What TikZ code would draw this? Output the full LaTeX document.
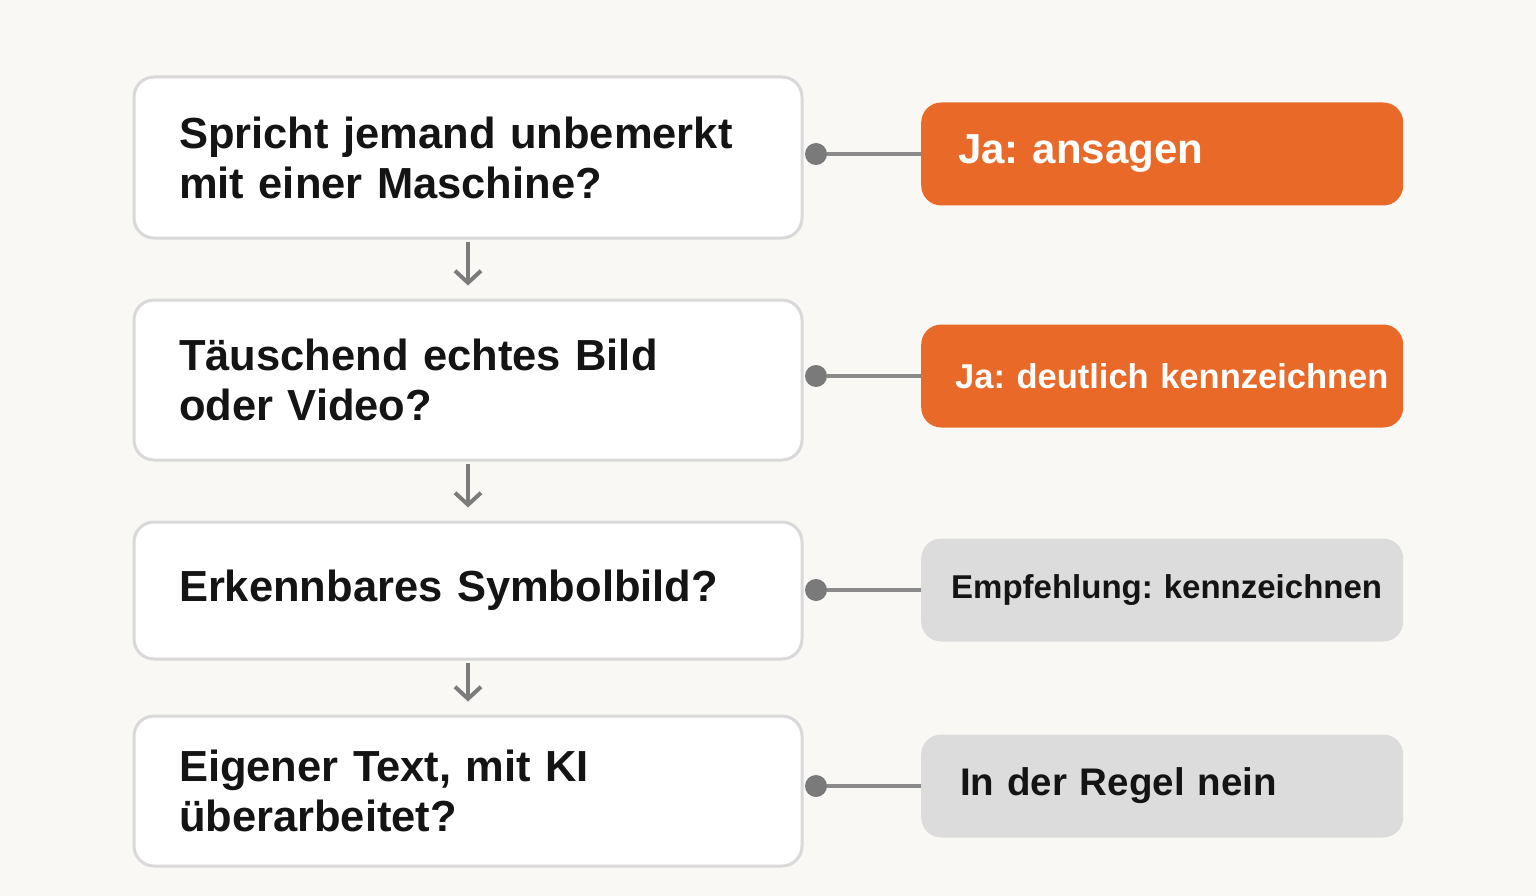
\documentclass[tikz,border=0pt]{standalone}
\usepackage{fontspec}
\setmainfont[WordSpace=0.72]{Liberation Sans}
\usetikzlibrary{arrows.meta}
\definecolor{bg}{HTML}{FAF8F5}
\definecolor{orangefill}{HTML}{E96A28}
\definecolor{grayfill}{HTML}{DCDCDC}
\definecolor{boxborder}{HTML}{D9D9D9}
\definecolor{linegray}{HTML}{8A8A8A}
\definecolor{arrowgray}{HTML}{7C7C7C}
\definecolor{dotgray}{HTML}{7A7A7A}
\definecolor{ink}{HTML}{141414}
\frenchspacing
\begin{document}
\begin{tikzpicture}[x=1pt,y=-1pt,
  qbox/.style={draw=boxborder,line width=3pt,fill=white,rounded corners=20pt,
    minimum width=668pt,inner xsep=45pt,inner ysep=0pt,text width=578pt,align=left,
    font=\fontsize{43.5}{50}\selectfont\bfseries,text=ink},
  abox/.style={rounded corners=20pt,minimum width=482pt,minimum height=103pt,
    inner xsep=0pt,inner ysep=0pt,text width=482pt,align=left,anchor=west},
  orangebox/.style={abox,fill=orangefill,text=white},
  graybox/.style={abox,fill=grayfill,text=ink},
  dotnode/.style={circle,fill=dotgray,inner sep=0pt,minimum size=22pt},
  link/.style={draw=linegray,line width=4pt},
  downarrow/.style={draw=arrowgray,line width=4pt,-{Straight Barb[length=12pt,width=26pt,line width=4pt]},shorten <=2pt,shorten >=13pt}
]
\useasboundingbox[fill=bg] (0,0) rectangle (1536,896);

% question boxes
\node[qbox,minimum height=161pt] (q1) at (468,157.5) {Spricht jemand unbemerkt\\mit einer Maschine?};
\node[qbox,minimum height=160pt] (q2) at (468,380) {Täuschend echtes Bild\\oder Video?};
\node[qbox,minimum height=137pt] (q3) at (468,590.5) {Erkennbares Symbolbild?};
\node[qbox,minimum height=150pt] (q4) at (468,791) {Eigener Text, mit KI\\überarbeitet?};

% answer boxes
\node[orangebox,font=\fontsize{42}{50}\selectfont\bfseries] (a1) at (921,154) {\hspace*{37pt}Ja: ansagen};
\node[orangebox,font=\fontsize{34.5}{40}\selectfont\bfseries] (a2) at (921,376) {\hspace*{34pt}Ja: deutlich kennzeichnen};
\node[graybox,font=\fontsize{33}{40}\selectfont\bfseries] (a3) at (921,590) {\hspace*{30pt}Empfehlung: kennzeichnen};
\node[graybox,font=\fontsize{38.5}{46}\selectfont\bfseries] (a4) at (921,786) {\hspace*{39pt}In der Regel nein};

% dots
\node[dotnode] (d1) at (816,154) {};
\node[dotnode] (d2) at (816,376) {};
\node[dotnode] (d3) at (816,590) {};
\node[dotnode] (d4) at (816,786) {};

% links
\draw[link] (d1) -- (a1.west);
\draw[link] (d2) -- (a2.west);
\draw[link] (d3) -- (a3.west);
\draw[link] (d4) -- (a4.west);

% arrows
\draw[downarrow] (q1.south) -- (q2.north);
\draw[downarrow] (q2.south) -- (q3.north);
\draw[downarrow] (q3.south) -- (q4.north);
\end{tikzpicture}
\end{document}
